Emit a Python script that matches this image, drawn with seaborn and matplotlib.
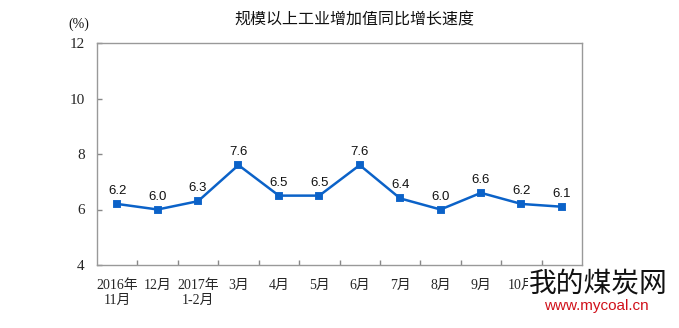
import matplotlib
matplotlib.use("Agg")
import matplotlib.pyplot as plt
import seaborn as sns
import pandas as pd
from matplotlib.ticker import FixedLocator

months = ["2016年\n11月", "12月", "2017年\n1-2月", "3月", "4月", "5月",
          "6月", "7月", "8月", "9月", "10月", "11月"]
growth = [6.2, 6.0, 6.3, 7.6, 6.5, 6.5, 7.6, 6.4, 6.0, 6.6, 6.2, 6.1]
y_ticks = [4, 6, 8, 10, 12]
title = "规模以上工业增加值同比增长速度"
unit = "(%)"

sns.set_theme(style="white")
plt.rcParams['font.family'] = ['Liberation Serif', 'Noto Sans CJK SC', 'DejaVu Sans']

df = pd.DataFrame({"month": months, "growth": growth})

fig = plt.figure(figsize=(6.79, 3.28), dpi=100)
ax = fig.add_axes([97/679, 1-265/328, (582-97)/679, (265-43)/328])

blue = "#0B62C8"
sns.pointplot(data=df, x="month", y="growth", ax=ax, color=blue,
              markers="s", markersize=5, linewidth=1.8, errorbar=None)

ax.set_xlim(-0.5, len(months) - 0.5)
ax.set_ylim(4, 12)
ax.set_yticks(y_ticks)
ax.set_yticklabels([str(v) for v in y_ticks], fontsize=11,
                   family=['Liberation Serif'])
ax.set_xlabel("")
ax.set_ylabel("")

ax.set_xticks(range(len(months)))
ax.set_xticklabels(months, fontsize=10, linespacing=1.25)
ax.xaxis.set_minor_locator(FixedLocator([i + 0.5 for i in range(len(months) - 1)]))
ax.tick_params(axis="x", which="major", length=0, pad=10)
ax.tick_params(axis="x", which="minor", direction="in", length=3.5,
               width=1, color="#888888", bottom=True)
ax.tick_params(axis="y", which="major", direction="in", length=3.5,
               width=1, color="#888888", left=True, pad=9)

for s in ax.spines.values():
    s.set_visible(True)
    s.set_color("#999999")
    s.set_linewidth(1.0)

for i, v in enumerate(growth):
    ax.annotate(f"{v:.1f}", xy=(i, v), xytext=(0, 5), textcoords="offset points",
                ha="center", va="bottom", fontsize=9.5,
                family=['Liberation Sans'], color="#111111")

fig.text(354/679, 1-20/328, title, ha="center", va="center", fontsize=11.5,
         family=['Noto Sans CJK SC'], color="#111111")
fig.text(79/679, 1-24/328, unit, ha="center", va="center", fontsize=10,
         family=['Liberation Serif'], color="#111111")

# watermark
fig.text(598/679, 1-283/328, "我的煤炭网", ha="center", va="center", fontsize=20,
         family=['Noto Sans CJK SC'], color="#111111",
         bbox=dict(facecolor="white", edgecolor="none", pad=0.5))
fig.text(596/679, 1-306/328, "www.mycoal.cn", ha="center", va="center", fontsize=11,
         family=['Liberation Sans'], color="#D0101A")

fig.savefig("out.png", dpi=100)
